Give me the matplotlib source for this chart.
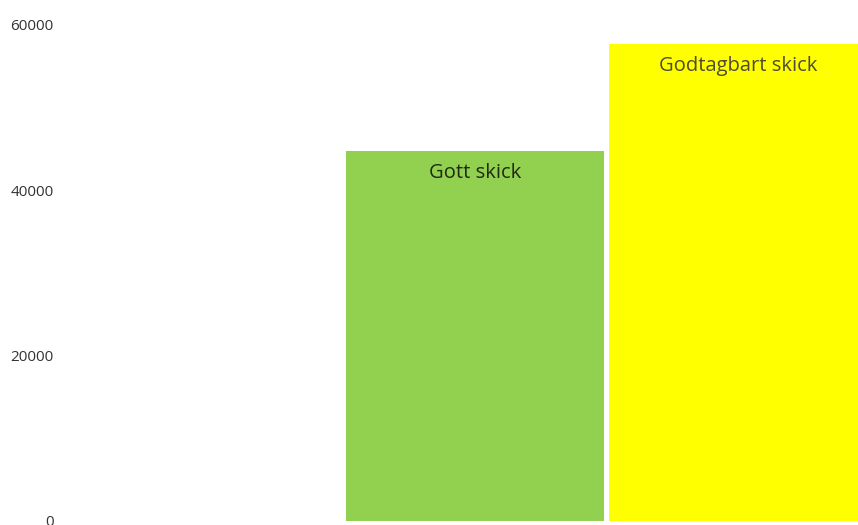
import matplotlib
matplotlib.use("Agg")
import matplotlib.pyplot as plt

categories = ["Dåligt skick", "Gott skick", "Godtagbart skick"]
values = [0, 44800, 57700]
colors = ["#ff0000", "#92d050", "#ffff00"]
label_colors = ["#333333", "#1f2a14", "#4d4d33"]
yticks = [0, 20000, 40000, 60000]

W, H = 858, 525
fig = plt.figure(figsize=(W / 100, H / 100), dpi=100)
left_px, right_px = 80.5, 869.5
bottom_px, top_px = 521, 25
ax = fig.add_axes([left_px / W, (H - bottom_px) / H,
                   (right_px - left_px) / W, (bottom_px - top_px) / H])
ax.set_xlim(-0.5, 2.5)
ax.set_ylim(0, 60000)

bars = ax.bar(range(len(categories)), values, width=0.981, color=colors)
for b, v, c, lc in zip(bars, values, categories, label_colors):
    if v > 0:
        ax.annotate(c, (b.get_x() + b.get_width() / 2, v), xytext=(0, -22),
                    textcoords="offset pixels",
                    ha="center", va="center", fontsize=14.5,
                    family=["Open Sans", "DejaVu Sans"], color=lc)

ax.set_xticks([])
ax.set_yticks(yticks)
ax.set_yticklabels([str(t) for t in yticks], family=["Open Sans", "DejaVu Sans"],
                   fontsize=11, color="#333333")
ax.tick_params(axis="y", length=0, pad=19.5)
for s in ax.spines.values():
    s.set_visible(False)
for lbl in ax.get_yticklabels():
    lbl.set_clip_on(False)

fig.savefig("out.png", dpi=100)
